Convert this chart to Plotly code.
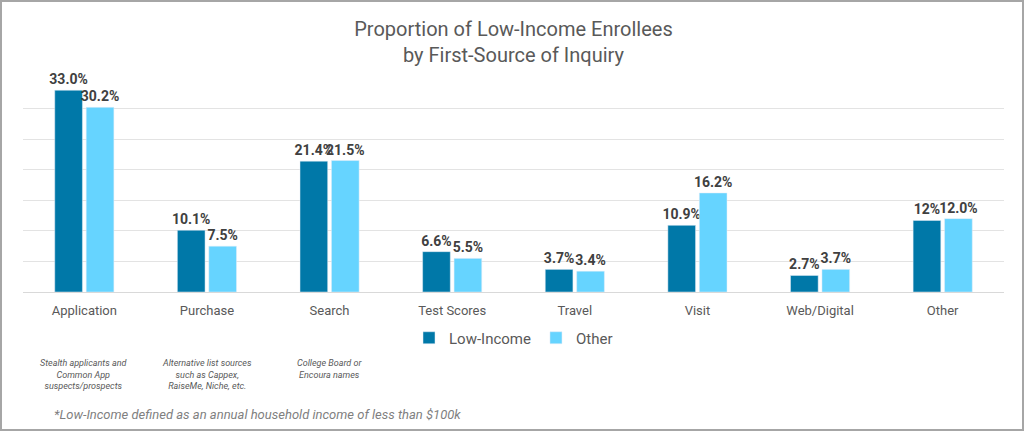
import plotly.graph_objects as go

categorias = ["Application", "Purchase", "Search", "Test Scores", "Travel", "Visit", "Web/Digital", "Other"]
baixa_renda = [33.0, 10.1, 21.4, 6.6, 3.7, 10.9, 2.7, 11.7]
outros = [30.2, 7.5, 21.5, 5.5, 3.4, 16.2, 3.7, 12.0]
rotulos_baixa = ["33.0%", "10.1%", "21.4%", "6.6%", "3.7%", "10.9%", "2.7%", "12%"]
rotulos_outros = ["30.2%", "7.5%", "21.5%", "5.5%", "3.4%", "16.2%", "3.7%", "12.0%"]

notas = {
    "Application": "Stealth applicants and<br>Common App<br>suspects/prospects",
    "Purchase": "Alternative list sources<br>such as Cappex,<br>RaiseMe, Niche, etc.",
    "Search": "College Board or<br>Encoura names",
}

W, H = 1024, 431
ml, mr, mt, mb = 23, 20, 78, 139
pw, ph = W - ml - mr, H - mt - mb

fonte = "Roboto"
cinza = "#595959"

fig = go.Figure()
fig.add_trace(go.Bar(
    x=categorias, y=baixa_renda, name="Low-Income",
    marker_color="#0078A8",
    text=rotulos_baixa, textposition="outside", constraintext="none",
    textfont=dict(family=fonte, size=14, color="#404040", weight="bold"),
    cliponaxis=False,
))
fig.add_trace(go.Bar(
    x=categorias, y=outros, name="Other",
    marker_color="#66D4FF",
    text=rotulos_outros, textposition="outside", constraintext="none",
    textfont=dict(family=fonte, size=14, color="#404040", weight="bold"),
    cliponaxis=False,
))

fig.update_layout(
    width=W, height=H,
    margin=dict(l=ml, r=mr, t=mt, b=mb),
    paper_bgcolor="white", plot_bgcolor="white",
    barmode="group", bargap=0.487, bargroupgap=0.12,
    font=dict(family=fonte, color=cinza),
    title=dict(
        text="Proportion of Low-Income Enrollees<br>by First-Source of Inquiry",
        x=0.5, xref="paper", xanchor="center",
        y=1 - 36 / H, yref="container", yanchor="middle",
        font=dict(family=fonte, size=20, color=cinza),
    ),
    legend=dict(
        orientation="h", x=0.5, xanchor="center",
        y=-(338 - (mt + ph)) / ph, yanchor="middle",
        font=dict(family=fonte, size=15, color=cinza),
        traceorder="normal",
    ),
    xaxis=dict(
        showline=False, ticks="", ticklabelstandoff=9,
        tickfont=dict(family=fonte, size=13, color=cinza),
    ),
    yaxis=dict(
        range=[0, 35], dtick=5, showticklabels=False,
        gridcolor="#e3e3e3", gridwidth=1,
        zeroline=True, zerolinecolor="#d9d9d9", zerolinewidth=1,
    ),
)

for cat, texto in notas.items():
    fig.add_annotation(
        x=cat, xref="x", y=-(356 - (mt + ph)) / ph, yref="paper",
        yanchor="top", text="<i>" + texto + "</i>", showarrow=False,
        font=dict(family=fonte, size=9, color=cinza), align="center",
    )

fig.add_annotation(
    x=(52 - ml) / pw, xref="paper", xanchor="left",
    y=-(414 - (mt + ph)) / ph, yref="paper", yanchor="middle",
    text="<i>*Low-Income defined as an annual household income of less than $100k</i>",
    showarrow=False, font=dict(family=fonte, size=13, color="#7f7f7f"),
)

# moldura cinza em volta da figura
fig.add_shape(
    type="rect", xref="paper", yref="paper",
    x0=-(ml - 1) / pw, x1=1 + (mr - 1) / pw,
    y0=-(mb - 1) / ph, y1=1 + (mt - 1) / ph,
    line=dict(color="#a6a6a6", width=2), layer="below",
)

# tira a margem padrao do body para a figura ocupar a janela toda
fig.write_html(
    "out.html",
    config={"displayModeBar": False},
    post_script="document.body.style.margin='0';",
)
